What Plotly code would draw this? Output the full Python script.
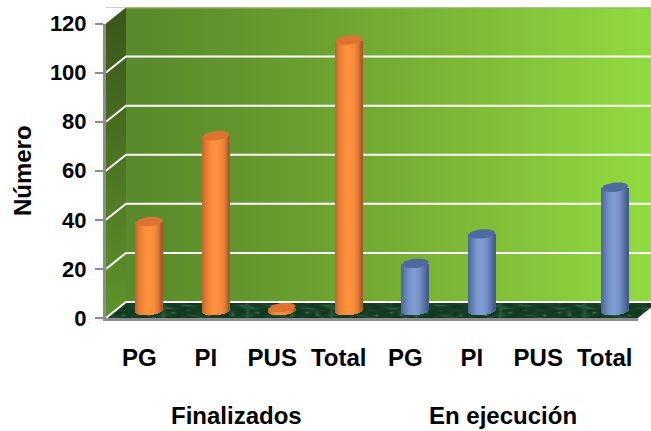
import math
import plotly.graph_objects as go

W, H = 651, 431
group_labels = ["Finalizados", "En ejecución"]
categories = ["PG", "PI", "PUS", "Total", "PG", "PI", "PUS", "Total"]
finalizados = [36, 71, 1, 110]
en_ejecucion = [19, 31, 0, 50]
y_ticks = [0, 20, 40, 60, 80, 100, 120]
y_title = "Número"

orange_stops = ["#c06a2c", "#dd7a33", "#f28638", "#fd8e3b", "#ff923f", "#fd8e3c", "#f5873a", "#dd7a35", "#a55c2a"]
blue_stops = ["#4f6898", "#5f7bae", "#708dc4", "#7c99d0", "#809dd3", "#7a96cd", "#6d87bd", "#5a73a6", "#465c88"]
orange_cap = "#dd7330"
blue_cap = "#4f6a9e"
wall_scale = [[0, "#598a2b"], [0.35, "#6ba030"], [0.65, "#7eb936"], [1, "#90d940"]]
side_scale = [[0, "#3c581b"], [0.5, "#4d7422"], [1, "#5c922a"]]
floor_scale = [[0, "#10361f"], [0.55, "#1a4429"], [1, "#3a6c50"]]

# geometry of the drawn 3D box, in page pixels
FRONT_L, FRONT_R, FRONT_Y0, FRONT_Y120 = 106, 638, 318, 23.5
DX, DY = 20, 16
PX_PER_UNIT = (FRONT_Y0 - FRONT_Y120) / 120
BACK_L, BACK_Y0, BACK_TOP = FRONT_L + DX, FRONT_Y0 - DY, FRONT_Y120 - DY


def xdom(a, b):
    return [a / W, min(b / W, 1)]


def ydom(bottom, top):
    return [(H - bottom) / H, (H - top) / H]


def centres(a, b, n):
    return [a + (b - a) * (i + 0.5) / n for i in range(n)]


def ramp(stops, n):
    """Spread a few hex colour stops over n strips."""
    out = []
    for i in range(n):
        p = i / (n - 1) * (len(stops) - 1)
        a = min(int(p), len(stops) - 2)
        f = p - a
        ca = [int(stops[a][k:k + 2], 16) for k in (1, 3, 5)]
        cb = [int(stops[a + 1][k:k + 2], 16) for k in (1, 3, 5)]
        out.append("rgb(%d,%d,%d)" % tuple(round(u + (v - u) * f) for u, v in zip(ca, cb)))
    return out


fig = go.Figure()

# ---- canvas subplot (xy): walls and floor
def hm(x, y, z, scale, **kw):
    fig.add_trace(go.Heatmap(x=x, y=y, z=z, colorscale=scale, showscale=False, zmin=0, zmax=1,
                             hoverinfo="skip", xaxis="x", yaxis="y", **kw))


hm(centres(BACK_L, W, 21), centres(BACK_TOP, BACK_Y0, 2), [[i / 20 for i in range(21)]] * 2, wall_scale,
   zsmooth="best")
hm(centres(FRONT_L, BACK_L, 2), centres(BACK_TOP, BACK_Y0 + DY, 11),
   [[j / 10, j / 10] for j in range(11)], side_scale, zsmooth="best")

floor_cols = 110
floor_rows = 7
floor_z = [[(((i * i * 7 + j * 13 + i * j * 5) % 17) / 16) ** 2 for i in range(floor_cols)]
           for j in range(floor_rows)]
hm(centres(FRONT_L, W, floor_cols), centres(BACK_Y0, BACK_Y0 + DY, floor_rows), floor_z, floor_scale,
   zsmooth="best")


def poly(xs, ys, color):
    fig.add_trace(go.Scatter(x=xs, y=ys, mode="lines", fill="toself", fillcolor=color, line=dict(width=0),
                             hoverinfo="skip", showlegend=False, xaxis="x", yaxis="y"))


poly([FRONT_L, BACK_L, FRONT_L, FRONT_L], [BACK_TOP, BACK_TOP, FRONT_Y120, BACK_TOP], "#ffffff")
poly([FRONT_L, BACK_L, FRONT_L, FRONT_L], [BACK_Y0, BACK_Y0, FRONT_Y0, BACK_Y0], "#5c922a")
poly([FRONT_R, W, W, FRONT_R], [FRONT_Y0, FRONT_Y0 - (W - FRONT_R) * DY / DX, FRONT_Y0, FRONT_Y0], "#ffffff")

for t in y_ticks[:-1]:
    yb = BACK_Y0 - t * PX_PER_UNIT
    fig.add_trace(go.Scatter(x=[FRONT_L, BACK_L, W], y=[yb + DY, yb, yb], mode="lines",
                             line=dict(color="#ffffff", width=2), hoverinfo="skip", showlegend=False,
                             xaxis="x", yaxis="y"))
fig.add_trace(go.Scatter(x=[BACK_L, W], y=[BACK_TOP + 0.5, BACK_TOP + 0.5], mode="lines",
                         line=dict(color="#8fb56a", width=1), hoverinfo="skip", showlegend=False,
                         xaxis="x", yaxis="y"))

# ---- bars subplot (x2y2): cylinders in the middle of the depth
SLOT_PX = (FRONT_R - FRONT_L) / len(categories)
BAR_W = 27 / SLOT_PX
ELL_B = 4.7 / PX_PER_UNIT
TILT = 1.2 / PX_PER_UNIT
STRIPS = 27
positions = list(range(len(categories)))


def half_h(t):
    return ELL_B * math.sqrt(max(0, 1 - t * t))


def cylinders(xs, vals, stops, cap):
    strips = ramp(stops, STRIPS)
    n = len(strips)
    for k, color in enumerate(strips):
        t = (k + 0.5) / n * 2 - 1
        base = -half_h(t) + TILT * t
        fig.add_trace(go.Bar(x=xs, y=[v - base if v > 0 else 0 for v in vals], base=base,
                             width=BAR_W / n * 1.08, offset=(k / n - 0.5) * BAR_W,
                             marker=dict(color=color, line=dict(width=0)), showlegend=False,
                             hoverinfo="skip", xaxis="x2", yaxis="y2"))
    for x, v in zip(xs, vals):
        if v <= 0:
            continue
        ts = [i / 20 * 2 - 1 for i in range(21)]
        ex = [x + t * BAR_W / 2 for t in ts] + [x + t * BAR_W / 2 for t in reversed(ts)]
        ey = [v + half_h(t) + TILT * t for t in ts] + [v - half_h(t) + TILT * t for t in reversed(ts)]
        fig.add_trace(go.Scatter(x=ex, y=ey, mode="lines", fill="toself", fillcolor=cap, line=dict(width=0),
                                 showlegend=False, hoverinfo="skip", xaxis="x2", yaxis="y2"))


cylinders(positions[:4], finalizados, orange_stops, orange_cap)
cylinders(positions[4:], en_ejecucion, blue_stops, blue_cap)

# ---- front subplot (x3y3): the visible axes
fig.add_trace(go.Scatter(x=positions, y=[None] * 8, mode="markers", showlegend=False, hoverinfo="skip",
                         xaxis="x3", yaxis="y3"))

font = dict(family="Liberation Sans", size=24, color="#000000", weight=700)
tick_y_font = dict(family="Liberation Sans", size=22, color="#000000", weight=700)
grey = "#8c8c8c"
BOTTOM_EXT = 5
hidden = dict(visible=False, showgrid=False, zeroline=False, fixedrange=True)
fig.update_layout(
    width=W, height=H, margin=dict(l=0, r=0, t=0, b=0, autoexpand=False), paper_bgcolor="#ffffff",
    plot_bgcolor="rgba(0,0,0,0)",
    barmode="overlay", bargap=0, showlegend=False,
    xaxis=dict(domain=[0, 1], range=[0, W], **hidden),
    yaxis=dict(domain=[0, 1], range=[H, 0], **hidden),
    xaxis2=dict(domain=xdom(FRONT_L + DX / 2, FRONT_R + DX / 2), range=[-0.5, 7.5], anchor="y2", **hidden),
    yaxis2=dict(domain=ydom(FRONT_Y0 - DY / 2 + BOTTOM_EXT * PX_PER_UNIT, FRONT_Y120 - DY / 2),
                range=[-BOTTOM_EXT, 120], anchor="x2", **hidden),
    xaxis3=dict(domain=xdom(FRONT_L, FRONT_R), range=[-0.5, 7.5], anchor="y3", tickmode="array",
                tickvals=positions, ticktext=categories, tickfont=font, showgrid=False, zeroline=False,
                showline=True, linecolor=grey, linewidth=3, ticks="", ticklabelstandoff=16),
    yaxis3=dict(domain=ydom(FRONT_Y0, FRONT_Y120), range=[0, 120], anchor="x3", tickmode="array",
                tickvals=y_ticks, tickfont=tick_y_font, showgrid=False, zeroline=False,
                showline=True, linecolor=grey, linewidth=3, ticks="outside", ticklen=8, tickwidth=2, tickcolor=grey,
                ticklabelstandoff=4,
                title=dict(text=y_title, font=font, standoff=12)),
    annotations=[
        dict(text=group_labels[0], x=237 / W, y=(H - 415) / H, xref="paper", yref="paper", showarrow=False,
             font=font, xanchor="center", yanchor="middle"),
        dict(text=group_labels[1], x=503 / W, y=(H - 415) / H, xref="paper", yref="paper", showarrow=False,
             font=font, xanchor="center", yanchor="middle"),
    ],
)
fig.write_html("out.html", post_script="document.body.style.margin='0';", config={"displayModeBar": False})
